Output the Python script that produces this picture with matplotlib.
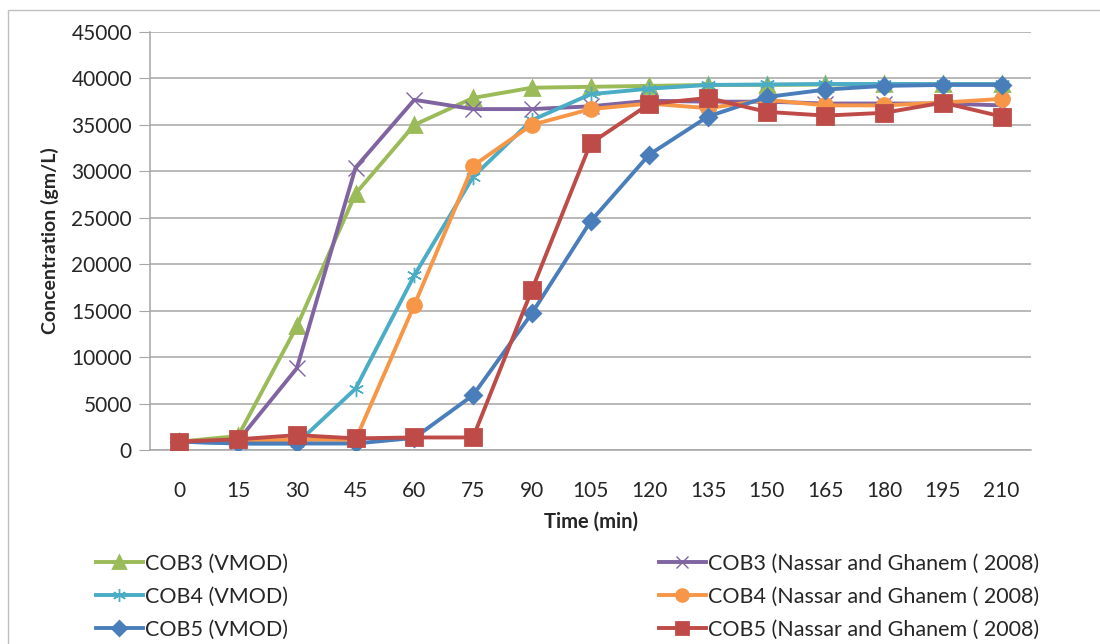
import matplotlib
matplotlib.use("Agg")
import matplotlib.pyplot as plt
from matplotlib.patches import Rectangle

plt.rcParams['font.family'] = ['Lato', 'DejaVu Sans']

time_labels = ["0", "15", "30", "45", "60", "75", "90", "105", "120", "135",
               "150", "165", "180", "195", "210"]

cob3_vmod = [900, 1500, 13300, 27600, 35000, 37900, 39000, 39100, 39200, 39300,
             39300, 39350, 39350, 39400, 39400]
cob3_nassar = [900, 1000, 8800, 30400, 37700, 36700, 36700, 37000, 37600, 37500,
               37500, 37300, 37300, 37300, 37100]
cob4_vmod = [900, 700, 700, 6600, 18800, 29400, 35500, 38300, 38900, 39300,
             39350, 39400, 39400, 39400, 39400]
cob4_nassar = [900, 1000, 1100, 1100, 15600, 30600, 35000, 36700, 37300, 36800,
               37700, 37100, 37100, 37400, 37800]
cob5_vmod = [900, 700, 700, 700, 1300, 5900, 14700, 24600, 31800, 35900,
             38000, 38800, 39200, 39300, 39300]
cob5_nassar = [900, 1150, 1600, 1250, 1350, 1350, 17200, 33000, 37250, 37900,
               36400, 36000, 36300, 37400, 35900]

fig = plt.figure(figsize=(11, 6.44), dpi=100)
fig.patch.set_facecolor('white')
# outer chart border
fig.patches.append(Rectangle((8 / 1100, -0.1), 1.2, 1 - 10 / 644 + 0.1,
                             transform=fig.transFigure, fill=False,
                             edgecolor='#BFBFBF', linewidth=1.0))

ax = fig.add_axes([150 / 1100, 1 - 450 / 644, 881 / 1100, 418 / 644])
x = list(range(len(time_labels)))

series = [
    (cob3_vmod, "COB3 (VMOD)", '#9BBB59', '^', 10, 2.0),
    (cob3_nassar, "COB3 (Nassar and Ghanem ( 2008)", '#8064A2', 'x', 11, 1.0),
    (cob4_vmod, "COB4 (VMOD)", '#4BACC6', (6, 2, 0), 11, 1.0),
    (cob4_nassar, "COB4 (Nassar and Ghanem ( 2008)", '#F79646', 'o', 10, 2.0),
    (cob5_vmod, "COB5 (VMOD)", '#4A7EBB', 'D', 8, 2.0),
    (cob5_nassar, "COB5 (Nassar and Ghanem ( 2008)", '#BE4B48', 's', 11, 2.0),
]
draw_order = [0, 2, 4, 1, 3, 5]
handles = {}
for i in draw_order:
    vals, lab, col, mk, ms, mew = series[i]
    h, = ax.plot(x, vals, color=col, linewidth=2.8, marker=mk, markersize=ms,
                 markerfacecolor=col, markeredgecolor=col, markeredgewidth=mew,
                 label=lab, zorder=3 + i)
    handles[i] = h

ax.set_xlim(-0.5, len(time_labels) - 0.5)
ax.set_ylim(0, 45000)
ax.set_yticks(range(0, 45001, 5000))
ax.set_yticklabels([str(v) for v in range(0, 45001, 5000)])
ax.set_xticks(x)
ax.set_xticklabels(time_labels)
ax.tick_params(axis='y', length=8, color='#A6A6A6', labelsize=15, pad=5,
               labelcolor='#262626')
ax.tick_params(axis='x', length=0, labelsize=15, pad=22, labelcolor='#262626')
ax.grid(axis='y', color='#A6A6A6', linewidth=1.1)
ax.set_axisbelow(True)
for s in ['top', 'right']:
    ax.spines[s].set_visible(False)
for s in ['left', 'bottom']:
    ax.spines[s].set_color('#A6A6A6')
    ax.spines[s].set_linewidth(1.1)

ax.set_xlabel("Time (min)", fontsize=14.5, fontweight='bold', labelpad=8,
              color='#262626')
ax.set_ylabel("Concentration (gm/L)", fontsize=14, fontweight='bold',
              labelpad=9, color='#262626')

leg_kw = dict(loc='upper left', ncol=1, frameon=False, fontsize=15.5,
              handlelength=2.2, handletextpad=0.1, labelspacing=0.6,
              borderpad=0, markerscale=0.85)
left_ids = [0, 2, 4]
right_ids = [1, 3, 5]
leg1 = fig.legend([handles[i] for i in left_ids], [series[i][1] for i in left_ids],
                  bbox_to_anchor=(85 / 1100, 1 - 543 / 644), **leg_kw)
leg2 = fig.legend([handles[i] for i in right_ids], [series[i][1] for i in right_ids],
                  bbox_to_anchor=(648 / 1100, 1 - 543 / 644), **leg_kw)
for lg in (leg1, leg2):
    for t in lg.get_texts():
        t.set_color('#262626')

fig.savefig("out.png", dpi=100, facecolor='white')
